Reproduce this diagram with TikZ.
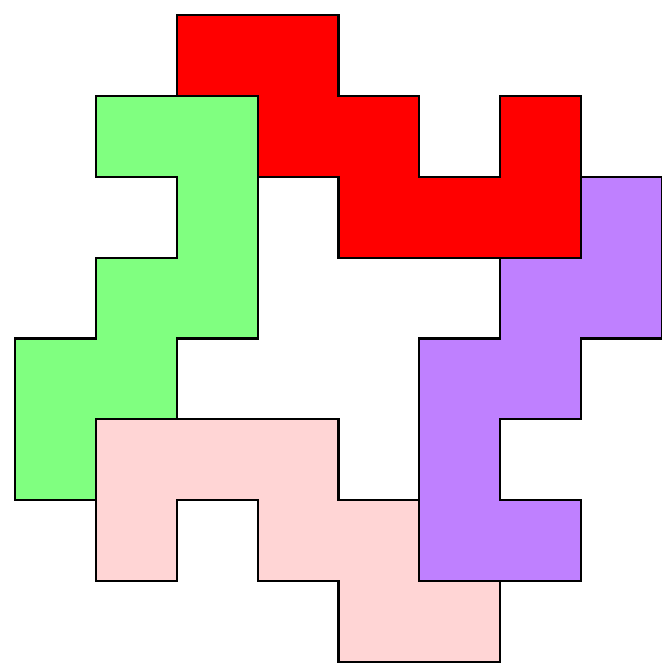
\documentclass[tikz,border=0pt]{standalone}
\usepackage{tikz}
\definecolor{topred}{HTML}{FF0000}
\definecolor{leftgreen}{HTML}{80FF80}
\definecolor{rightviolet}{HTML}{BF80FF}
\definecolor{lowpink}{HTML}{FFD5D5}

\begin{document}
\begin{tikzpicture}[y=-1cm,
              piece/.style={draw=black,line width=0.75pt,line join=miter}]
              \useasboundingbox (-0.186,-0.186) rectangle (8,8.025);
              % top piece
              \draw[piece,fill=topred] (2,0)--(4,0)--(4,1)--(5,1)--(5,2)--(6,2)--(6,1)--(7,1)
                --(7,3)--(4,3)--(4,2)--(3,2)--(3,1)--(2,1)--cycle;
              % left piece
              \draw[piece,fill=leftgreen] (1,1)--(3,1)--(3,4)--(2,4)--(2,5)--(1,5)--(1,6)--(0,6)
                --(0,4)--(1,4)--(1,3)--(2,3)--(2,2)--(1,2)--cycle;
              % right piece
              \draw[piece,fill=rightviolet] (7,2)--(8,2)--(8,4)--(7,4)--(7,5)--(6,5)--(6,6)--(7,6)
                --(7,7)--(5,7)--(5,4)--(6,4)--(6,3)--(7,3)--cycle;
              % bottom piece
              \draw[piece,fill=lowpink] (1,5)--(4,5)--(4,6)--(5,6)--(5,7)--(6,7)--(6,8)--(4,8)
                --(4,7)--(3,7)--(3,6)--(2,6)--(2,7)--(1,7)--cycle;
            \end{tikzpicture}
\end{document}
